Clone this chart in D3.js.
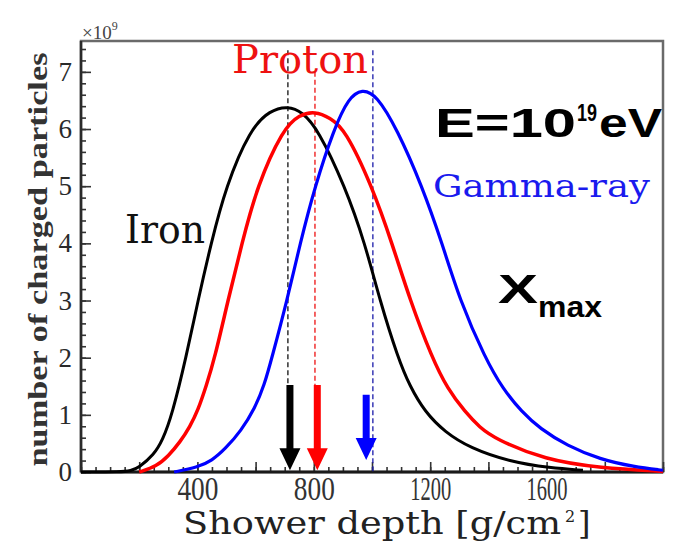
<!DOCTYPE html>
<html>
<head>
<meta charset="utf-8">
<script src="https://cdn.jsdelivr.net/npm/d3@7"></script>
<style>
  html, body { margin: 0; padding: 0; background: #fff; }
  svg { display: block; }
</style>
</head>
<body>
<svg id="chart" width="679" height="542"></svg>
<script>
// Longitudinal shower profiles at E = 10^19 eV
const depthLabels = [400, 800, 1200, 1600];          // labelled depth ticks [g/cm^2]
const countLabels = [0, 1, 2, 3, 4, 5, 6, 7];         // labelled count ticks [x10^9]

// [depth g/cm^2, charged particles x10^9]
const ironProfile = [
  [0, 0], [140, 0], [170, 0.02], [200, 0.08], [250, 0.3], [280, 0.55], [313, 1.0], [361, 2.0],
  [402, 3.0], [447, 4.0], [498, 5.0], [581, 6.0], [650, 6.33], [711, 6.4], [760, 6.3],
  [814, 6.0], [907, 5.0], [976, 4.0], [1027, 3.0], [1089, 2.0], [1130, 1.5], [1182, 1.05],
  [1250, 0.7], [1337, 0.42], [1474, 0.18], [1612, 0.07], [1725, 0.03]
];
const protonProfile = [
  [200, 0], [260, 0.1], [300, 0.28], [340, 0.52], [375, 0.8], [402, 1.08], [430, 1.5], [460, 2.0],
  [505, 3.0], [553, 4.0], [605, 5.0], [694, 6.0], [750, 6.25], [804, 6.31], [855, 6.2],
  [907, 6.0], [1000, 5.0], [1069, 4.0], [1131, 3.0], [1206, 2.0], [1260, 1.45],
  [1320, 1.05], [1370, 0.78], [1423, 0.58], [1595, 0.21], [1784, 0.07], [2000, 0.01]
];
const gammaProfile = [
  [320, 0], [400, 0.08], [450, 0.2], [495, 0.4], [550, 0.72], [598, 1.12], [630, 1.52],
  [656, 2.0], [708, 3.0], [753, 4.0], [804, 5.0], [869, 6.0], [920, 6.55], [966, 6.7],
  [1015, 6.6], [1086, 6.0], [1172, 5.0], [1241, 4.0], [1302, 3.0], [1388, 2.0],
  [1450, 1.45], [1515, 1.05], [1577, 0.76], [1670, 0.46], [1784, 0.22], [1900, 0.09], [2000, 0.03]
];

const seriesNames = ["Iron", "Proton", "Gamma-ray"];
const seriesColors = ["#000000", "#ff0000", "#0000ff"];
const xmaxDepth = [711, 804, 1003];     // dashed Xmax markers
const arrowDepth = [718, 812, 980];     // Xmax arrows
const arrowTop = [1.52, 1.52, 1.35];
const arrowTip = [0.03, 0.03, 0.21];
const dashTop = [7.38, 7.0, 7.38];
const dashBottom = [1.52, 1.52, 0];

const svg = d3.select("#chart");
const x = d3.scaleLinear().domain([0, 2000]).range([81, 663]);
const y = d3.scaleLinear().domain([0, 7.54]).range([472, 41]);

svg.append("rect").attr("width", 679).attr("height", 542).attr("fill", "#fff");

// plot frame
svg.append("rect")
  .attr("x", x(0)).attr("y", y(7.54))
  .attr("width", x(2000) - x(0)).attr("height", y(0) - y(7.54))
  .attr("fill", "none").attr("stroke", "#6a6a6a").attr("stroke-width", 2.5);

// ticks (pointing into the plot)
function tickAxis(axis, values, size, tx, ty) {
  const g = svg.append("g").attr("transform", `translate(${tx},${ty})`)
    .call(axis.tickValues(values).tickSize(-size).tickFormat(""));
  g.select(".domain").remove();
  g.selectAll(".tick line").attr("stroke", "#333").attr("stroke-width", 1.6);
  return g;
}
tickAxis(d3.axisBottom(x), d3.range(0, 2001, 50), 5, 0, y(0));
tickAxis(d3.axisBottom(x), d3.range(0, 2001, 200), 10, 0, y(0));
tickAxis(d3.axisLeft(y), d3.range(0, 7.5, 0.2), 5, x(0), 0);
tickAxis(d3.axisLeft(y), countLabels, 10, x(0), 0);

// left and bottom axis lines
svg.append("line").attr("x1", x(0)).attr("x2", x(2000)).attr("y1", y(0)).attr("y2", y(0))
  .attr("stroke", "#1a1a1a").attr("stroke-width", 3);
svg.append("line").attr("x1", x(0)).attr("x2", x(0)).attr("y1", y(0)).attr("y2", y(7.54))
  .attr("stroke", "#2a2a2a").attr("stroke-width", 2.5);

// tick labels
const xLab = svg.append("g").attr("transform", `translate(0,${y(0)})`)
  .call(d3.axisBottom(x).tickValues(depthLabels).tickFormat(d3.format("d")).tickSize(0).tickPadding(5));
xLab.select(".domain").remove();
xLab.selectAll("text")
  .attr("font-family", "Liberation Serif").attr("font-size", 33).attr("fill", "#333")
  .attr("dy", "0.7em")
  .attr("textLength", 41).attr("lengthAdjust", "spacingAndGlyphs");

const yLab = svg.append("g").attr("transform", `translate(${x(0)},0)`)
  .call(d3.axisLeft(y).tickValues(countLabels).tickFormat(d3.format("d")).tickSize(0).tickPadding(9));
yLab.select(".domain").remove();
yLab.selectAll("text")
  .attr("font-family", "Liberation Serif").attr("font-size", 27).attr("fill", "#2a2a2a");

// exponent of the count axis
const expo = svg.append("text").attr("x", x(0) + 1).attr("y", y(7.54) - 2)
  .attr("font-family", "Liberation Serif").attr("font-size", 19).attr("fill", "#444");
expo.append("tspan").text("×10");
expo.append("tspan").attr("font-size", 12).attr("dy", -9).text("9");

// axis titles
svg.append("text")
  .attr("transform", `translate(47,${(y(0) + y(7.54)) / 2 + 3}) rotate(-90)`)
  .attr("text-anchor", "middle")
  .attr("font-family", "Liberation Serif").attr("font-weight", "bold")
  .attr("font-size", 28).attr("fill", "#333")
  .attr("textLength", 414).attr("lengthAdjust", "spacingAndGlyphs")
  .text("number of charged particles");

svg.append("text").attr("x", 183).attr("y", 534)
  .attr("font-family", "DejaVu Serif").attr("font-size", 32).attr("fill", "#222")
  .attr("textLength", 378).attr("lengthAdjust", "spacingAndGlyphs")
  .text("Shower depth [g/cm");
svg.append("text").attr("x", 565).attr("y", 522)
  .attr("font-family", "DejaVu Serif").attr("font-size", 16).attr("fill", "#222").text("2");
svg.append("text").attr("x", 578).attr("y", 534)
  .attr("font-family", "DejaVu Serif").attr("font-size", 32).attr("fill", "#222").text("]");

// dashed Xmax markers
const dashColors = ["#111111", "#ee1111", "#1a1aaa"];
svg.append("g").selectAll("line").data(xmaxDepth).join("line")
  .attr("x1", d => x(d)).attr("x2", d => x(d))
  .attr("y1", (d, i) => y(dashTop[i])).attr("y2", (d, i) => y(dashBottom[i]))
  .attr("stroke", (d, i) => dashColors[i]).attr("stroke-width", 1.3)
  .attr("stroke-dasharray", "5,3");

// shower profiles
const line = d3.line().x(d => x(d[0])).y(d => y(d[1])).curve(d3.curveBasis);
const profiles = [ironProfile, protonProfile, gammaProfile];
const widths = [3, 3.5, 3.2];
svg.append("g").selectAll("path").data(profiles).join("path")
  .attr("d", line)
  .attr("fill", "none")
  .attr("stroke", (d, i) => seriesColors[i])
  .attr("stroke-width", (d, i) => widths[i])
  .attr("stroke-linejoin", "round");

// Xmax arrows
function arrowPath(d, i) {
  const cx = x(d), top = y(arrowTop[i]), tip = y(arrowTip[i]);
  const head = 22, sw = 3.5, hw = 10.5;
  return `M${cx - sw},${top} L${cx + sw},${top} L${cx + sw},${tip - head} L${cx + hw},${tip - head}
          L${cx},${tip} L${cx - hw},${tip - head} L${cx - sw},${tip - head} Z`;
}
svg.append("g").selectAll("path").data(arrowDepth).join("path")
  .attr("d", arrowPath)
  .attr("fill", (d, i) => seriesColors[i]);

// series labels
svg.append("text").attr("x", 232).attr("y", 73)
  .attr("font-family", "DejaVu Serif").attr("font-size", 40).attr("fill", "#ee1111")
  .attr("textLength", 136).attr("lengthAdjust", "spacingAndGlyphs").text(seriesNames[1]);
svg.append("text").attr("x", 125).attr("y", 243)
  .attr("font-family", "DejaVu Serif").attr("font-size", 40).attr("fill", "#111")
  .attr("textLength", 80).attr("lengthAdjust", "spacingAndGlyphs").text(seriesNames[0]);
svg.append("text").attr("x", 433).attr("y", 197)
  .attr("font-family", "DejaVu Serif").attr("font-size", 31).attr("fill", "#1a1aee")
  .attr("textLength", 217).attr("lengthAdjust", "spacingAndGlyphs").text(seriesNames[2]);

// energy and Xmax annotations
const sans = "Liberation Sans";
svg.append("text").attr("x", 435).attr("y", 137)
  .attr("font-family", sans).attr("font-weight", "bold").attr("font-size", 41).attr("fill", "#000")
  .attr("textLength", 141).attr("lengthAdjust", "spacingAndGlyphs").text("E=10");
svg.append("text").attr("x", 577).attr("y", 121)
  .attr("font-family", sans).attr("font-weight", "bold").attr("font-size", 23).attr("fill", "#000")
  .attr("textLength", 20).attr("lengthAdjust", "spacingAndGlyphs").text("19");
svg.append("text").attr("x", 599).attr("y", 137)
  .attr("font-family", sans).attr("font-weight", "bold").attr("font-size", 41).attr("fill", "#000")
  .attr("textLength", 63).attr("lengthAdjust", "spacingAndGlyphs").text("eV");
svg.append("text").attr("x", 498).attr("y", 303)
  .attr("font-family", sans).attr("font-weight", "bold").attr("font-size", 40).attr("fill", "#000")
  .attr("textLength", 40).attr("lengthAdjust", "spacingAndGlyphs").text("X");
svg.append("text").attr("x", 538).attr("y", 317)
  .attr("font-family", sans).attr("font-weight", "bold").attr("font-size", 30).attr("fill", "#000")
  .attr("textLength", 64).attr("lengthAdjust", "spacingAndGlyphs").text("max");
</script>
</body>
</html>
